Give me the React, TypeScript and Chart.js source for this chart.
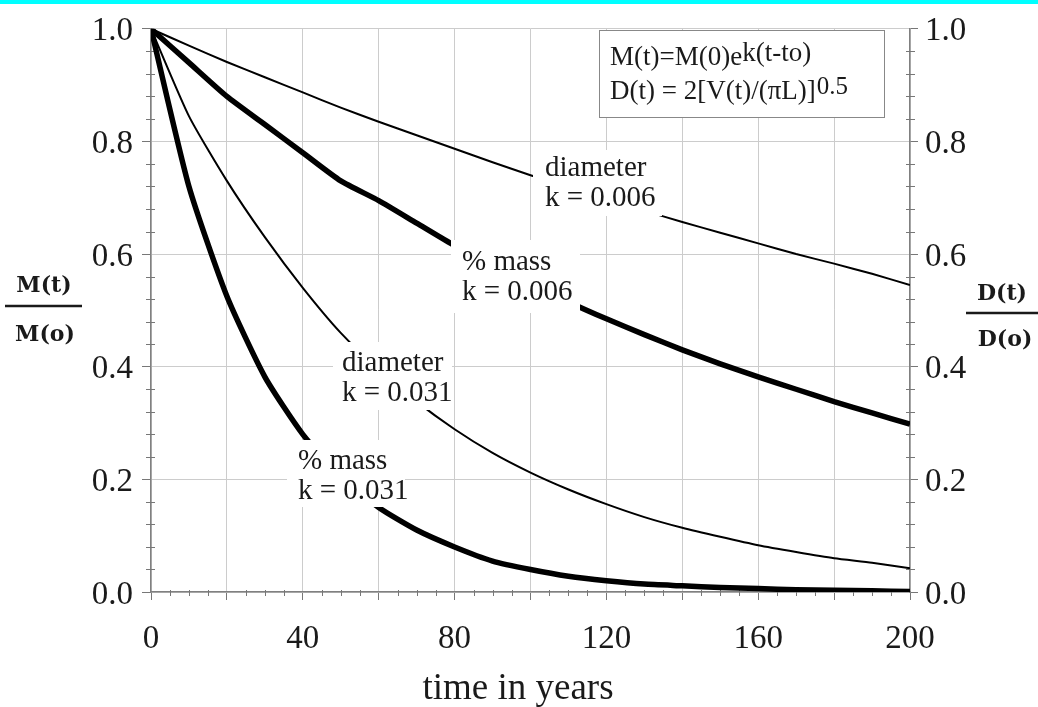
import React, { useEffect, useRef } from 'react';
import { Chart, registerables } from 'chart.js';

Chart.register(...registerables);

// time in years
const years = [0, 10, 20, 30, 40, 50, 60, 70, 80, 90, 100, 110, 120, 130, 140, 150, 160, 170, 180, 190, 200];
// diameter, k = 0.006 (thin)
const diameter006 = [1.0, 0.97, 0.941, 0.914, 0.887, 0.86, 0.835, 0.811, 0.787, 0.763, 0.74, 0.719, 0.698, 0.677, 0.657, 0.638, 0.619, 0.6, 0.583, 0.565, 0.545];
// % mass, k = 0.006 (thick)
const mass006 = [1.0, 0.94, 0.88, 0.83, 0.78, 0.73, 0.695, 0.655, 0.615, 0.58, 0.548, 0.515, 0.485, 0.457, 0.43, 0.405, 0.382, 0.36, 0.338, 0.318, 0.298];
// diameter, k = 0.031 (thin)
const diameter031 = [1.0, 0.845, 0.73, 0.63, 0.54, 0.46, 0.395, 0.338, 0.289, 0.247, 0.212, 0.182, 0.156, 0.133, 0.114, 0.098, 0.083, 0.071, 0.06, 0.052, 0.042];
// % mass, k = 0.031 (thick)
const mass031 = [1.0, 0.72, 0.525, 0.382, 0.28, 0.205, 0.15, 0.11, 0.08, 0.055, 0.04, 0.028, 0.02, 0.014, 0.011, 0.008, 0.006, 0.004, 0.003, 0.002, 0.001];

const xTitle = 'time in years';
const leftTitle = ['M(t)', 'M(o)'];
const rightTitle = ['D(t)', 'D(o)'];
const formulaLine1 = ['M(t)=M(0)e', 'k(t-to)'];
const formulaLine2 = ['D(t) = 2[V(t)/(\u03C0L)]', '0.5'];
const curveLabels = [
  ['diameter', 'k = 0.006'],
  ['% mass', 'k = 0.006'],
  ['diameter', 'k = 0.031'],
  ['% mass', 'k = 0.031'],
];

const SERIF = '"Liberation Serif", "Times New Roman", serif';
const BOLD_SERIF = '"DejaVu Serif", serif';

const toPoints = (ys: number[]) => years.map((t, i) => ({ x: t, y: ys[i] }));

export default function App() {
  const ref = useRef<HTMLCanvasElement>(null);

  useEffect(() => {
    const canvas = ref.current!;
    const W = 1038;
    const H = 707;

    const overlay = {
      id: 'overlay',
      beforeDraw(chart: any) {
        const ctx = chart.ctx;
        ctx.save();
        ctx.fillStyle = '#ffffff';
        ctx.fillRect(0, 0, W, H);
        ctx.fillStyle = '#00ffff';
        ctx.fillRect(0, 0, W, 4);
        ctx.restore();
      },
      beforeDatasetsDraw(chart: any) {
        const ctx = chart.ctx;
        const xs = chart.scales.x;
        const yl = chart.scales.y;
        const yr = chart.scales.y2;
        const a = chart.chartArea;
        ctx.save();
        ctx.strokeStyle = '#777';
        ctx.lineWidth = 1;
        ctx.beginPath();
        for (let v = 5; v < 200; v += 5) {
          if (v % 20 === 0) continue;
          const px = Math.round(xs.getPixelForValue(v)) + 0.5;
          ctx.moveTo(px, a.bottom - 2);
          ctx.lineTo(px, a.bottom + 4);
        }
        for (let k = 1; k < 25; k++) {
          if (k % 5 === 0) continue;
          const v = k * 0.04;
          const py = Math.round(yl.getPixelForValue(v)) + 0.5;
          ctx.moveTo(a.left - 5, py);
          ctx.lineTo(a.left + 4, py);
          const pr = Math.round(yr.getPixelForValue(v)) + 0.5;
          ctx.moveTo(a.right - 4, pr);
          ctx.lineTo(a.right + 5, pr);
        }
        ctx.stroke();
        ctx.restore();
      },
      afterDatasetsDraw(chart: any) {
        const ctx = chart.ctx;
        ctx.save();
        // curve labels with white backgrounds
        const boxes = [
          { r: [533, 150, 662, 216], x: 545, y: 168 },
          { r: [451, 240, 580, 313], x: 462, y: 262 },
          { r: [333, 342, 452, 410], x: 342, y: 363 },
          { r: [287, 440, 405, 507], x: 298, y: 461 },
        ];
        boxes.forEach((b, i) => {
          ctx.fillStyle = '#ffffff';
          ctx.fillRect(b.r[0], b.r[1], b.r[2] - b.r[0], b.r[3] - b.r[1]);
          ctx.fillStyle = '#1a1a1a';
          ctx.font = `29px ${SERIF}`;
          ctx.textAlign = 'left';
          ctx.textBaseline = 'middle';
          ctx.fillText(curveLabels[i][0], b.x, b.y);
          ctx.fillText(curveLabels[i][1], b.x, b.y + 30);
        });

        // formula box
        ctx.fillStyle = '#ffffff';
        ctx.fillRect(599, 30, 285, 87);
        ctx.strokeStyle = '#888';
        ctx.lineWidth = 1;
        ctx.strokeRect(599.5, 30.5, 285, 87);
        ctx.fillStyle = '#1a1a1a';
        ctx.textBaseline = 'alphabetic';
        ctx.font = `27px ${SERIF}`;
        ctx.fillText(formulaLine1[0], 610, 65);
        let w = ctx.measureText(formulaLine1[0]).width;
        ctx.font = `27px ${SERIF}`;
        ctx.fillText(formulaLine1[1], 610 + w, 61);
        ctx.font = `27px ${SERIF}`;
        ctx.fillText(formulaLine2[0], 610, 99);
        w = ctx.measureText(formulaLine2[0]).width;
        ctx.font = `25px ${SERIF}`;
        ctx.fillText(formulaLine2[1], 610 + w + 1, 94);
        ctx.restore();
      },
      afterDraw(chart: any) {
        const ctx = chart.ctx;
        ctx.save();
        ctx.fillStyle = '#1a1a1a';
        ctx.textAlign = 'center';
        ctx.textBaseline = 'middle';
        ctx.font = `37px ${SERIF}`;
        ctx.fillText(xTitle, 518, 689);

        ctx.font = `bold 22px ${BOLD_SERIF}`;
        ctx.fillText(leftTitle[0], 44, 286);
        ctx.fillText(leftTitle[1], 45, 335);
        ctx.fillText(rightTitle[0], 1002, 294);
        ctx.fillText(rightTitle[1], 1005, 340);
        ctx.strokeStyle = '#1a1a1a';
        ctx.lineWidth = 2.5;
        ctx.beginPath();
        ctx.moveTo(5, 306);
        ctx.lineTo(82, 306);
        ctx.moveTo(966, 313);
        ctx.lineTo(1038, 313);
        ctx.stroke();
        ctx.restore();
      },
    };

    const tickFont = { family: SERIF, size: 33 };

    const chart = new Chart(canvas, {
      type: 'line',
      data: {
        datasets: [
          { label: 'diameter k = 0.006', data: toPoints(diameter006), borderColor: '#000', borderWidth: 2, pointRadius: 0, tension: 0.2, yAxisID: 'y' },
          { label: '% mass k = 0.006', data: toPoints(mass006), borderColor: '#000', borderWidth: 5.5, pointRadius: 0, tension: 0.2, yAxisID: 'y' },
          { label: 'diameter k = 0.031', data: toPoints(diameter031), borderColor: '#000', borderWidth: 2, pointRadius: 0, tension: 0.2, yAxisID: 'y' },
          { label: '% mass k = 0.031', data: toPoints(mass031), borderColor: '#000', borderWidth: 5.5, pointRadius: 0, tension: 0.2, yAxisID: 'y' },
        ],
      },
      options: {
        responsive: false,
        animation: false,
        events: [],
        layout: { padding: { top: 21, left: 0, right: 0, bottom: 0 } },
        plugins: {
          legend: { display: false },
          tooltip: { enabled: false },
          title: { display: false },
        },
        scales: {
          x: {
            type: 'linear',
            min: 0,
            max: 200,
            position: 'bottom',
            afterFit: (s: any) => { s.height = 115; },
            ticks: {
              stepSize: 20,
              autoSkip: false,
              maxRotation: 0,
              padding: 20,
              color: '#1a1a1a',
              font: tickFont,
              callback: (v: any) => (Number(v) % 40 === 0 ? String(v) : ''),
            },
            grid: { color: '#cccccc', lineWidth: 1, tickLength: 8, tickColor: '#777' },
            border: { color: '#808080', width: 1.5 },
          },
          y: {
            type: 'linear',
            min: 0,
            max: 1,
            position: 'left',
            afterFit: (s: any) => { s.width = 151; },
            ticks: {
              stepSize: 0.2,
              padding: 9,
              labelOffset: 3,
              color: '#1a1a1a',
              font: tickFont,
              callback: (v: any) => Number(v).toFixed(1),
            },
            grid: { color: '#cccccc', lineWidth: 1, tickLength: 9, tickColor: '#777' },
            border: { color: '#808080', width: 1.5 },
          },
          y2: {
            type: 'linear',
            min: 0,
            max: 1,
            position: 'right',
            afterFit: (s: any) => { s.width = 128; },
            ticks: {
              stepSize: 0.2,
              padding: 7,
              labelOffset: 3,
              color: '#1a1a1a',
              font: tickFont,
              callback: (v: any) => Number(v).toFixed(1),
            },
            grid: { drawOnChartArea: false, tickLength: 8, tickColor: '#777' },
            border: { color: '#808080', width: 1.5 },
          },
        },
      },
      plugins: [overlay],
    } as any);

    return () => chart.destroy();
  }, []);

  return (
    <div style={{ position: 'absolute', left: 0, top: 0, width: 1038, height: 707, background: '#fff' }}>
      <canvas ref={ref} width={1038} height={707} style={{ display: 'block' }} />
    </div>
  );
}
